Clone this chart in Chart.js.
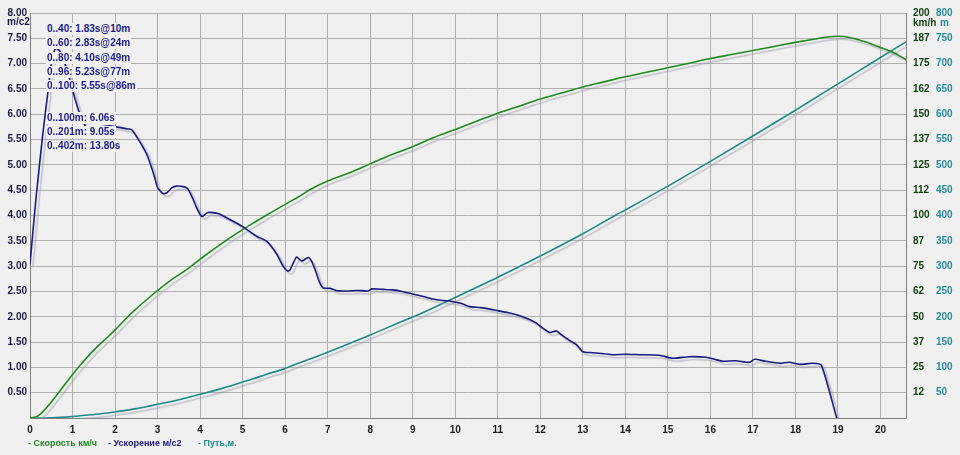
<!DOCTYPE html>
<html>
<head>
<meta charset="utf-8">
<script src="https://cdn.jsdelivr.net/npm/chart.js@4/dist/chart.umd.min.js"></script>
<style>
body { margin:0; background:#f0f0f0; font-family:"Liberation Sans", Arial, sans-serif; font-weight:bold; }
#wrap { position:relative; width:960px; height:455px; }
canvas { position:absolute; left:0; top:0; }
.t { position:absolute; font-size:10px; line-height:12px; white-space:nowrap; }
.note { color:#1c1c8c; background:#f0f0f0; padding:0 1px; }
</style>
</head>
<body>
<div id="wrap">
<canvas id="runChart" width="960" height="455"></canvas>
<div class="t note" style="left:46px;top:23px">0..40: 1.83s@10m</div>
<div class="t note" style="left:46px;top:37px">0..60: 2.83s@24m</div>
<div class="t note" style="left:46px;top:52px">0..80: 4.10s@49m</div>
<div class="t note" style="left:46px;top:66px">0..96: 5.23s@77m</div>
<div class="t note" style="left:46px;top:80px">0..100: 5.55s@86m</div>
<div class="t note" style="left:46px;top:112px">0..100m: 6.06s</div>
<div class="t note" style="left:46px;top:126px">0..201m: 9.05s</div>
<div class="t note" style="left:46px;top:140px">0..402m: 13.80s</div>
<div class="t" style="left:7px;top:16px;color:#1a1a40">m/c2</div>
<div class="t" style="left:913px;top:17px;color:#124012">km/h</div>
<div class="t" style="left:940px;top:17px;color:#2a8a96">m</div>
<div class="t" style="left:28px;top:437px;font-size:9px;color:#1f8a1f">- Скорость км/ч</div>
<div class="t" style="left:108px;top:437px;font-size:9px;color:#1a1a80">- Ускорение м/с2</div>
<div class="t" style="left:198px;top:437px;font-size:9px;color:#1e8a8a">- Путь,м.</div>
</div>
<script>
// ускорение, м/с2
var accTime = [0,0.14,0.3,0.42,0.52,0.6,0.7,0.82,0.94,1.06,1.18,1.28,1.37,1.45,1.57,1.75,1.88,2.1,2.3,2.4,2.55,2.63,2.75,2.87,2.94,3.0,3.13,3.22,3.34,3.45,3.6,3.71,3.83,3.92,4.0,4.05,4.18,4.42,4.7,5.0,5.33,5.57,5.8,5.95,6.06,6.11,6.18,6.27,6.39,6.54,6.62,6.7,6.8,6.89,7.05,7.2,7.45,7.7,7.95,8.04,8.3,8.53,8.75,9.0,9.25,9.47,9.7,9.87,10.15,10.34,10.6,11.0,11.25,11.52,11.7,11.9,12.05,12.22,12.38,12.5,12.69,12.85,13.0,13.23,13.5,13.7,14.0,14.34,14.8,15.11,15.5,15.9,16.1,16.29,16.6,16.92,17.04,17.3,17.63,17.85,18.1,18.4,18.61,18.97];
var accValue = [3.04,4.33,5.6,6.43,7.1,7.3,7.25,7.0,6.67,6.3,5.98,5.8,5.68,5.66,5.73,5.76,5.77,5.74,5.71,5.69,5.5,5.39,5.2,4.92,4.73,4.55,4.43,4.45,4.55,4.58,4.57,4.53,4.33,4.15,4.02,3.98,4.06,4.04,3.92,3.78,3.59,3.49,3.24,3.0,2.9,2.92,3.04,3.18,3.1,3.17,3.1,2.94,2.7,2.57,2.56,2.52,2.51,2.52,2.51,2.55,2.54,2.53,2.5,2.45,2.4,2.35,2.32,2.31,2.26,2.2,2.18,2.12,2.08,2.02,1.96,1.88,1.78,1.69,1.72,1.64,1.53,1.45,1.31,1.29,1.27,1.25,1.26,1.25,1.24,1.18,1.21,1.2,1.16,1.12,1.13,1.1,1.16,1.12,1.08,1.1,1.06,1.08,1.04,0];

// скорость, км/ч
var speedTime = [0,0.1,0.2,0.3,0.45,0.6,0.8,1.0,1.2,1.5,1.83,2.0,2.4,2.83,3.34,3.7,4.1,4.6,5.0,5.23,5.55,6.0,6.3,6.58,7.0,7.5,8.0,8.5,9.0,9.5,10.0,10.5,11.0,11.5,12.0,12.5,13.0,13.5,14.0,14.5,15.0,15.5,16.0,16.5,17.0,17.5,18.0,18.5,18.8,19.0,19.3,19.6,20.0,20.3,20.6];
var speedValue = [0,0.3,1.2,3,6.5,10.5,16,21.5,26.5,33.5,40,43.5,52,60,68.5,73.5,80,87.5,93,96,100,105.5,109,112.7,117,121,125.5,130,134,138.5,142.5,146.5,150.5,154,157.5,160.5,163.5,166,168.5,170.7,173,175.2,177.5,179.5,181.5,183.5,185.5,187.3,188.3,188.5,187.8,186,183,180.5,177];

// путь, м
var distTime = [0,0.5,1,1.5,1.83,2.0,2.5,2.83,3,3.5,4,4.1,4.5,5,5.23,5.55,6,6.06,7,8,9,9.05,10,11,12,13,13.8,14,15,16,17,18,19,20,20.6];
var distValue = [0,0.5,3,7,10,12,18.5,24,27,36,47,49,58,71,77,86,98,100,130,164,199.5,201,238,278,320,364,402,411,458,507,557,608,660,712,743];

var accTicks = ['', '0.50','1.00','1.50','2.00','2.50','3.00','3.50','4.00','4.50','5.00','5.50','6.00','6.50','7.00','7.50','8.00'];
var kmhTicks = ['', '12','25','37','50','62','75','87','100','112','125','137','150','162','175','187','200'];
var meterTicks = ['', '50','100','150','200','250','300','350','400','450','500','550','600','650','700','750','800'];

function toPoints(xs, ys) {
	var pts = [];
	for (var i = 0; i < xs.length; i++) {
		pts.push({x: xs[i], y: ys[i]});
	}
	return pts;
}

var shadowPlugin = {
	id: 'lineShadow',
	beforeDatasetDraw: function(chart) {
		var c = chart.ctx;
		c.save();
		c.shadowColor = 'rgba(150,150,165,0.5)';
		c.shadowOffsetX = 3;
		c.shadowOffsetY = 3;
		c.shadowBlur = 1;
	},
	afterDatasetDraw: function(chart) {
		chart.ctx.restore();
	}
};

var tickFont = {family: 'Liberation Sans', size: 10, weight: 'bold'};

new Chart(document.getElementById('runChart').getContext('2d'), {
	type: 'line',
	data: {
		datasets: [{
			label: 'Ускорение м/с2',
			data: toPoints(accTime, accValue),
			borderColor: '#1a1a80',
			borderWidth: 1.6,
			pointRadius: 0,
			tension: 0.2,
			yAxisID: 'y'
		}, {
			label: 'Скорость км/ч',
			data: toPoints(speedTime, speedValue),
			borderColor: '#1f8a1f',
			borderWidth: 1.6,
			pointRadius: 0,
			cubicInterpolationMode: 'monotone',
			yAxisID: 'y1'
		}, {
			label: 'Путь,м.',
			data: toPoints(distTime, distValue),
			borderColor: '#1e8a8a',
			borderWidth: 1.6,
			pointRadius: 0,
			cubicInterpolationMode: 'monotone',
			yAxisID: 'y2'
		}]
	},
	options: {
		responsive: false,
		animation: false,
		devicePixelRatio: 1,
		layout: { padding: { top: 10, left: 0, right: 0, bottom: 0 } },
		plugins: { legend: { display: false }, tooltip: { enabled: false } },
		scales: {
			x: {
				type: 'linear', min: 0, max: 20.6,
				ticks: { stepSize: 1, includeBounds: false, color: '#202020', font: tickFont, padding: 6, maxRotation: 0 },
				grid: { color: '#b0b0b0', drawTicks: false },
				border: { color: '#808080' },
				afterFit: function(s) { s.height = 37; }
			},
			y: {
				position: 'left', min: 0, max: 8,
				ticks: { stepSize: 0.5, color: '#1a1a40', font: tickFont, padding: 3,
					callback: function(v, i) { return accTicks[i]; } },
				grid: { color: '#b0b0b0', drawTicks: false },
				border: { color: '#808080' },
				afterFit: function(s) { s.width = 30; }
			},
			y1: {
				position: 'right', min: 0, max: 200,
				ticks: { stepSize: 12.5, color: '#124012', font: tickFont, padding: 7,
					callback: function(v, i) { return kmhTicks[i]; } },
				grid: { display: false, drawTicks: false },
				border: { color: '#808080' },
				afterFit: function(s) { s.width = 27; }
			},
			y2: {
				position: 'right', min: 0, max: 800,
				ticks: { stepSize: 50, color: '#2a8a96', font: tickFont, padding: 3,
					callback: function(v, i) { return meterTicks[i]; } },
				grid: { display: false, drawTicks: false },
				border: { display: false },
				afterFit: function(s) { s.width = 27; }
			}
		}
	},
	plugins: [shadowPlugin]
});
</script>
</body>
</html>
